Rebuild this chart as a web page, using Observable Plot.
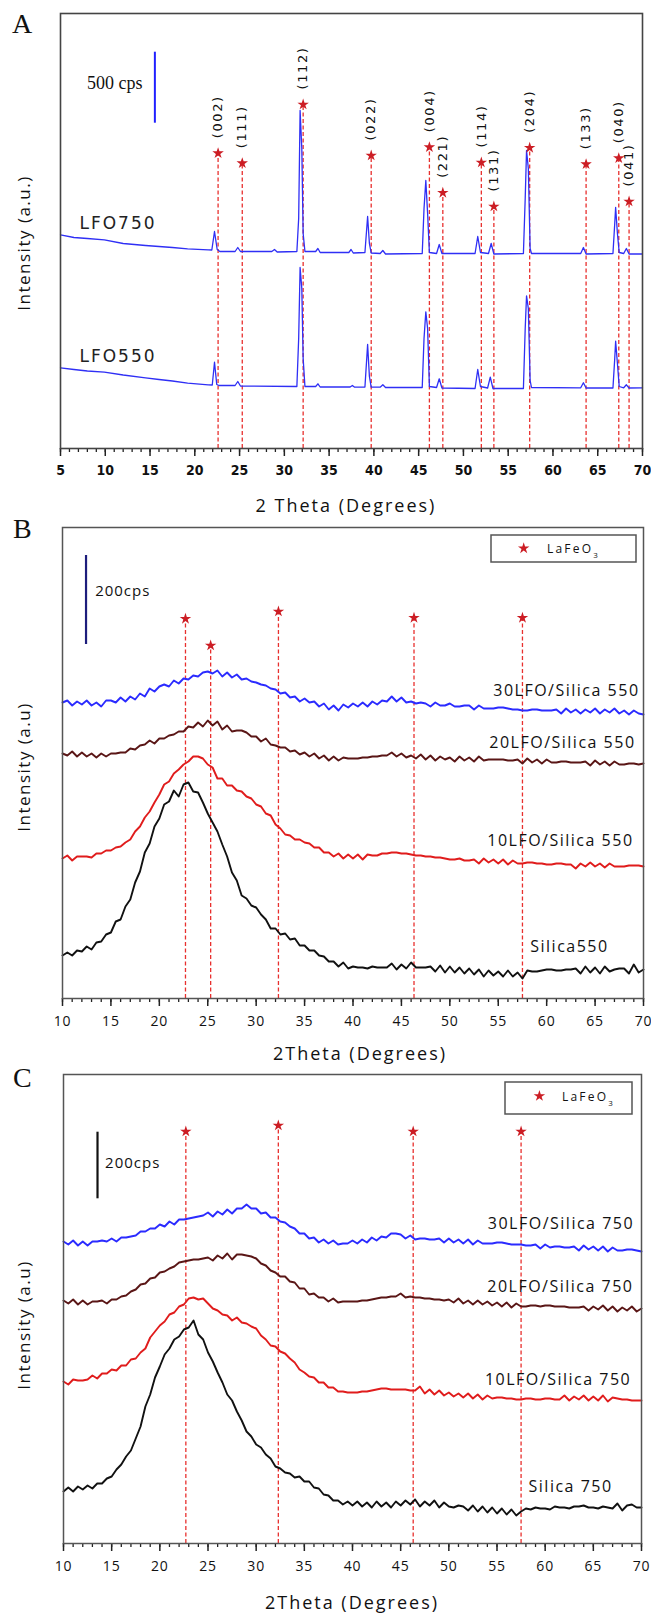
<!DOCTYPE html>
<html><head><meta charset="utf-8">
<script src="https://cdn.jsdelivr.net/npm/d3@7"></script>
<script src="https://cdn.jsdelivr.net/npm/@observablehq/plot@0.6"></script>
<style>
body{margin:0;background:#fff;}
#wrap{position:relative;width:651px;height:1613px;overflow:hidden;background:#fff;}
#wrap svg.plot{position:absolute;left:0;}
#overlay{position:absolute;left:0;top:0;pointer-events:none;}
</style></head>
<body><div id="wrap"></div>
<script>
// ---------- colours ----------
const BLUE_A = "#2f2ff5", BLUE = "#2b2bff", BROWN = "#5a1616", RED = "#e01c1c", BLACK = "#111111";
const DASH = "#e8302e", STAR = "#cc1d24", FRAME = "#444444";

// ---------- Panel A : LaFeO3 (LFO) calcined 550 / 750 ----------
const ticksA = [5,10,15,20,25,30,35,40,45,50,55,60,65,70];
const lfo750 = [[5,213.7],[6.5,211],[8,210],[9.9,208.7],[12,205],[14.5,203],[16,202],[17.5,201],[19.2,199.7],[21.5,198.7],[21.9,198.5],[22.2,217],[22.5,199],[22.8,197],[24.5,197],[24.8,201],[25.1,197],[28.6,197],[28.9,199],[29.2,196.5],[31.4,197],[31.6,230],[31.76,338],[31.95,300],[32.1,215],[32.3,197],[33.5,197],[33.75,200],[34,196],[37.2,196],[37.45,199],[37.7,195.5],[39.0,196],[39.3,232],[39.5,205],[39.7,195.5],[40.7,195],[41.0,198],[41.3,194.5],[45.4,195],[45.6,240],[45.8,268],[46.0,235],[46.2,196],[47.0,195],[47.3,204],[47.6,195],[51.3,195],[51.6,212],[51.9,196],[52.8,195],[53.1,205],[53.4,194.5],[56.7,195],[56.9,250],[57.05,298],[57.25,280],[57.45,200],[57.6,195],[63.1,195],[63.4,201],[63.7,194.5],[66.7,195],[66.9,225],[67.0,241],[67.2,215],[67.4,196],[67.9,195],[68.2,200],[68.5,194.5],[70,194.5]];
const lfo550 = [[5,80.7],[6.5,79],[8,77.5],[9.9,76.3],[12,73.5],[14.5,70.7],[16,69],[17.5,67.5],[19.2,65.3],[21.5,63.7],[21.95,63.5],[22.2,86.3],[22.45,64],[22.7,63],[24.5,63],[24.8,67],[25.1,62.5],[31.4,62],[31.6,110],[31.76,181],[31.95,160],[32.1,90],[32.3,62],[33.5,62],[33.75,64.7],[34,61.5],[37.35,61.5],[37.6,63],[37.85,61.3],[39.0,61.5],[39.3,104],[39.5,72],[39.7,61.3],[40.7,61.3],[41.0,63.7],[41.3,61],[45.4,61],[45.6,110],[45.8,136.7],[46.0,120],[46.2,62],[47.0,61],[47.3,69.7],[47.6,60.5],[51.3,60],[51.6,79],[51.9,62],[52.7,60.5],[53.0,71.3],[53.3,60],[56.7,60],[56.9,120],[57.05,152.7],[57.25,140],[57.45,68],[57.6,61],[63.1,60.7],[63.4,65.7],[63.7,60.5],[66.7,60.5],[66.9,90],[67.0,107.3],[67.2,85],[67.4,62],[67.9,60.7],[68.2,63.7],[68.5,60.5],[70,60.7]];
const hklA  = ["(002)","(111)","(112)","(022)","(004)","(221)","(114)","(131)","(204)","(133)","(040)","(041)"];
const hklPosA = [22.6, 25.3, 32.1, 39.7, 46.2, 47.7, 52.0, 53.4, 57.4, 63.7, 67.35, 68.5];
const hklStarA = [295.3, 285.3, 344, 293, 301.3, 255.7, 286, 242, 300.7, 284.3, 290.3, 247];
const seriesLabelsA = [{name:"LFO750", t:7.12, h:225}, {name:"LFO550", t:7.12, h:92}];
const scaleBarA = {t:15.54, lo:325.3, hi:396.3, text:"500 cps", tt:14.16, th:365.3};

// ---------- Panels B and C : xLFO/Silica, sampled every 0.5° from 10° to 70° ----------
const ticksBC = [10,15,20,25,30,35,40,45,50,55,60,65,70];
const ANGLE_START = 10, ANGLE_STEP = 0.5, N_ANGLES = 121;

const s30_550 = [
296,298,293,297,294,298,293,296,292,298,
298,296,301,297,302,299,305,302,310,307,
312,314,312,318,315,320,319,323,322,326,
327,325,328,322,326,321,324,319,320,317,
316,314,313,310,309,305,306,301,302,297,
300,296,297,292,295,289,293,288,294,291,
295,292,296,292,297,294,298,297,302,297,
301,296,297,295,296,295,292,296,293,293,
295,292,292,293,293,289,293,290,290,290,
291,291,290,289,289,288,288,289,289,288,
288,288,289,285,290,286,289,285,289,286,
290,285,289,286,290,285,288,284,288,285,
284];
const s20_550 = [
245,243,247,242,246,242,245,241,245,242,
245,245,246,246,250,249,253,254,258,255,
260,260,263,264,267,267,272,271,276,272,
278,273,277,269,273,267,268,268,266,262,
262,257,260,254,253,251,251,247,248,244,
246,242,245,240,243,238,242,238,241,240,
240,240,241,241,242,242,243,243,246,242,
245,241,243,240,244,239,243,238,242,239,
241,237,242,238,241,237,242,238,239,239,
239,239,238,238,239,235,240,236,239,235,
239,236,236,237,237,236,236,236,237,233,
238,234,237,233,237,234,234,235,235,234,
235];
const s10_550 = [
140,143,138,142,142,142,141,145,145,148,
148,151,152,156,159,167,172,181,187,196,
204,214,217,225,229,234,237,242,242,240,
234,231,220,220,213,213,208,207,202,200,
194,192,185,183,174,170,164,163,159,159,
156,155,151,151,146,146,142,145,140,144,
140,144,139,144,143,143,145,145,146,146,
145,145,144,143,143,142,142,141,141,140,
139,139,140,138,138,139,135,140,136,139,
135,139,134,138,135,135,136,136,135,135,
134,134,135,135,134,134,130,135,132,136,
132,135,131,135,132,132,132,133,133,133,
132];
const silica550 = [
43,46,43,48,47,52,49,56,57,64,
66,77,79,92,99,116,127,146,155,172,
180,194,197,208,202,214,216,207,206,196,
185,176,167,154,142,126,118,103,100,93,
91,84,79,70,70,64,65,59,60,53,
53,48,48,43,42,37,37,32,36,30,
32,31,31,30,32,31,31,31,35,29,
34,30,36,31,31,31,32,27,33,26,
32,26,31,25,30,24,29,22,28,23,
27,22,28,22,26,20,28,27,27,28,
29,29,28,28,29,29,30,25,32,26,
31,25,32,27,29,30,30,25,34,26,
29];
const s30_750 = [
302,299,303,298,302,298,302,302,303,302,
305,302,306,306,307,308,312,312,315,315,
319,317,322,319,324,324,325,326,327,328,
331,327,332,329,334,330,335,335,339,335,
335,330,331,326,326,322,321,317,315,310,
310,305,306,301,304,300,303,299,300,300,
303,300,304,301,306,303,307,306,310,310,
309,305,308,304,305,305,304,304,305,301,
305,301,304,300,304,299,303,300,300,300,
301,301,300,299,299,299,298,298,299,295,
299,296,297,297,296,296,297,293,298,294,
297,293,297,292,296,293,293,294,294,293,
292];
const s20_750 = [
243,240,244,239,243,239,242,242,243,240,
244,244,247,248,252,254,259,260,265,266,
271,272,275,277,281,282,283,284,284,285,
286,283,288,285,290,284,289,289,288,287,
285,280,278,273,271,267,267,262,261,255,
255,249,250,246,246,242,245,241,242,242,
242,242,243,243,244,245,246,246,247,247,
250,246,247,246,246,245,245,244,244,243,
244,241,245,240,243,239,243,239,242,238,
241,237,241,236,240,237,237,238,238,237,
238,238,237,237,237,236,236,236,237,233,
237,234,238,233,237,232,236,233,237,232,
235];
const s10_750 = [
162,159,164,163,163,164,168,165,170,170,
174,173,178,178,184,185,191,195,206,212,
218,222,229,231,237,239,245,246,244,245,
240,235,233,229,228,223,226,221,220,217,
215,208,204,198,197,192,190,185,181,174,
171,167,166,161,161,156,156,152,152,151,
151,151,152,152,153,154,155,155,154,154,
154,154,153,153,157,150,154,149,153,148,
151,147,150,146,150,145,149,144,148,145,
146,146,145,145,144,144,145,145,144,144,
145,145,144,144,148,143,147,144,148,143,
147,143,148,142,146,145,144,144,143,143,
143];
const silica750 = [
52,56,52,57,54,58,55,60,60,65,
67,74,79,87,93,105,117,137,149,166,
177,189,195,204,207,214,216,223,209,204,
191,182,171,161,149,143,132,123,112,107,
99,96,89,85,77,75,71,70,66,67,
62,62,56,55,49,48,43,43,39,42,
38,42,37,41,36,42,37,41,36,42,
38,43,39,44,37,42,38,43,36,41,
37,36,38,37,33,38,32,37,31,36,
30,35,29,34,28,32,35,34,36,35,
35,34,37,36,36,35,37,37,38,36,
36,35,37,36,35,40,33,38,39,36,
36];

const namesB = ["30LFO/Silica 550","20LFO/Silica 550","10LFO/Silica 550","Silica550"];
const labelPosB = [[69.59,308],[69.18,255.3],[68.97,158],[66.4,51.3]];
const starPosB = [22.7, 25.3, 32.3, 46.3, 57.5];
const starHB   = [379.7, 353, 387, 380.7, 380.7];
const scaleBarB = {t:12.43, lo:354, hi:443, text:"200cps", tt:13.37, th:407.3};

const namesC = ["30LFO/Silica 750","20LFO/Silica 750","10LFO/Silica 750","Silica 750"];
const labelPosC = [[69.23,319.7],[69.17,256.3],[68.93,164],[67.0,56.3]];
const starPosC = [22.7, 32.3, 46.3, 57.5];
const starHC   = [412, 418, 412, 412];
const scaleBarC = {t:13.53, lo:344.7, hi:411.3, text:"200cps", tt:14.32, th:380.3};

// ---------- helpers ----------
const angles = d3.range(N_ANGLES).map(i => ANGLE_START + i * ANGLE_STEP);
const toRows = arr => arr.map((h, i) => ({t: angles[i], h}));
const pairRows = arr => arr.map(([t, h]) => ({t, h}));
const wrap = document.getElementById("wrap");

function xAxes(ticks, lo, hi, fontOpts, pad) {
  return [
    Plot.axisX({ticks: d3.range(lo, hi + 1), tickSize: 4, tickFormat: () => "", label: null, stroke: "#222", strokeWidth: 1.3}),
    Plot.axisX({ticks, tickSize: 8, tickPadding: pad, label: null, stroke: "#222", strokeWidth: 1.5, ...fontOpts})
  ];
}
function spaceTexts(svg, strings, ls) {
  const set = new Set(strings.map(String));
  d3.select(svg).selectAll("text").filter(function () { return set.has(this.textContent.trim()); })
    .attr("letter-spacing", ls).style("letter-spacing", ls);
}
function place(svg, top) {
  svg.classList.add("plot");
  svg.style.top = top + "px";
  wrap.appendChild(svg);
}

// ---------- Panel A ----------
const starsA = hklA.map((k, i) => ({k, t: hklPosA[i], h: hklStarA[i]}));
const plotA = Plot.plot({
  width: 651, height: 520, marginLeft: 60, marginRight: 9, marginTop: 13, marginBottom: 72,
  x: {domain: [5, 70]}, y: {domain: [0, 435], axis: null},
  style: {fontFamily: "'DejaVu Sans', sans-serif", fontSize: "13px", color: "#111", background: "transparent", overflow: "visible"},
  marks: [
    Plot.ruleX(starsA, {x: "t", y1: 0, y2: "h", stroke: DASH, strokeWidth: 1.3, strokeDasharray: "4,2.5"}),
    Plot.line(pairRows(lfo750), {x: "t", y: "h", stroke: BLUE_A, strokeWidth: 1.3}),
    Plot.line(pairRows(lfo550), {x: "t", y: "h", stroke: BLUE_A, strokeWidth: 1.3}),
    Plot.dot(starsA, {x: "t", y: "h", symbol: "star", r: 3.6, fill: STAR, stroke: "none"}),
    Plot.text(starsA, {x: "t", y: "h", text: "k", rotate: -90, textAnchor: "start", dy: -15, fontSize: 13, fontFamily: "'DejaVu Sans', sans-serif", fill: "#111"}),
    Plot.text(seriesLabelsA, {x: "t", y: "h", text: "name", textAnchor: "start", fontSize: 17, fontFamily: "'DejaVu Sans', sans-serif", fill: "#222"}),
    Plot.ruleX([scaleBarA], {x: "t", y1: "lo", y2: "hi", stroke: "#2020ff", strokeWidth: 2}),
    Plot.text([scaleBarA], {x: "tt", y: "th", text: "text", textAnchor: "end", fontSize: 18, fontFamily: "'Liberation Serif', serif", fill: "#111"}),
    ...xAxes(ticksA, 5, 70, {fontSize: 14, fontWeight: "bold", fontFamily: "'Liberation Sans Narrow','DejaVu Sans Condensed','Liberation Sans',sans-serif"}, 9),
    Plot.frame({stroke: FRAME, strokeWidth: 1.6})
  ]
});
spaceTexts(plotA, hklA, "1.6px");
spaceTexts(plotA, seriesLabelsA.map(d => d.name), "2px");
place(plotA, 0);

// ---------- Panels B & C ----------
function panelBC(cfg) {
  const colors = [BLUE, BROWN, RED, BLACK];
  const stars = cfg.starPos.map((t, i) => ({t, h: cfg.starH[i]}));
  const labels = cfg.names.map((name, i) => ({name, t: cfg.labelPos[i][0], h: cfg.labelPos[i][1]}));
  const svg = Plot.plot({
    width: 651, height: cfg.height, marginLeft: cfg.ml, marginRight: cfg.mr, marginTop: cfg.mt, marginBottom: cfg.mb,
    x: {domain: [10, 70]}, y: {domain: [0, cfg.ymax], axis: null},
    style: {fontFamily: "'Open Sans', sans-serif", fontSize: "14px", color: "#111", background: "transparent", overflow: "visible"},
    marks: [
      Plot.ruleX(stars, {x: "t", y1: 0, y2: "h", stroke: DASH, strokeWidth: 1.3, strokeDasharray: "4,2.5"}),
      ...cfg.series.map((s, i) => Plot.line(toRows(s), {x: "t", y: "h", stroke: colors[i], strokeWidth: 1.9, strokeLinejoin: "round"})),
      Plot.dot(stars, {x: "t", y: "h", symbol: "star", r: 3.6, fill: STAR, stroke: "none"}),
      Plot.text(labels, {x: "t", y: "h", text: "name", textAnchor: "end", fontSize: 16, fontFamily: "'Open Sans', sans-serif", fill: "#111"}),
      Plot.ruleX([cfg.bar], {x: "t", y1: "lo", y2: "hi", stroke: cfg.barColor, strokeWidth: 2.2}),
      Plot.text([cfg.bar], {x: "tt", y: "th", text: "text", textAnchor: "start", fontSize: 15, fontFamily: "'Open Sans', sans-serif", fill: "#111"}),
      ...xAxes(ticksBC, 10, 70, {fontSize: 14, fontFamily: "'Open Sans', sans-serif"}, 10),
      Plot.frame({stroke: "#555", strokeWidth: 1.5})
    ]
  });
  spaceTexts(svg, cfg.names, "1.5px");
  spaceTexts(svg, ticksBC, "0.8px");
  spaceTexts(svg, [cfg.bar.text], "1px");
  return svg;
}

const plotB = panelBC({height: 550, ml: 62, mr: 8, mt: 12, mb: 67, ymax: 471,
  series: [s30_550, s20_550, s10_550, silica550], names: namesB, labelPos: labelPosB,
  starPos: starPosB, starH: starHB, bar: scaleBarB, barColor: "#1d1d7c"});
place(plotB, 515);

const plotC = panelBC({height: 548, ml: 63, mr: 10, mt: 9, mb: 70, ymax: 469,
  series: [s30_750, s20_750, s10_750, silica750], names: namesC, labelPos: labelPosC,
  starPos: starPosC, starH: starHC, bar: scaleBarC, barColor: "#111"});
place(plotC, 1065);

// ---------- overlay: panel letters, axis titles, legends ----------
const ov = d3.select(wrap).append("svg").attr("id", "overlay").attr("width", 651).attr("height", 1613);
[["A", 12, 33], ["B", 13, 538], ["C", 13, 1087]].forEach(([s, x, y]) =>
  ov.append("text").attr("x", x).attr("y", y).attr("font-family", "'Liberation Serif', serif").attr("font-size", 28).attr("fill", "#111").text(s));

[["2 Theta (Degrees)", 346, 512], ["2Theta (Degrees)", 360, 1060], ["2Theta (Degrees)", 352, 1609]].forEach(([s, x, y]) =>
  ov.append("text").attr("x", x).attr("y", y).attr("text-anchor", "middle").attr("font-family", "'Open Sans', sans-serif")
    .attr("font-size", 18).attr("letter-spacing", "2px").attr("fill", "#111").text(s));

[["Intensity (a.u.)", 23, 243], ["Intensity (a.u)", 23, 767], ["Intensity (a.u)", 23, 1325]].forEach(([s, x, y]) =>
  ov.append("text").attr("transform", `translate(${x},${y}) rotate(-90)`).attr("text-anchor", "middle").attr("dominant-baseline", "central")
    .attr("font-family", "'Open Sans', sans-serif").attr("font-size", 17).attr("letter-spacing", "1.5px").attr("fill", "#111").text(s));

const starPath = d3.symbol(d3.symbolStar, 3.6 * 3.6 * Math.PI)();
[{x: 491, y: 535, w: 145, h: 27, sx: 523.7, sy: 548.3, tx: 547, ty: 553},
 {x: 505, y: 1082, w: 127, h: 32, sx: 539.4, sy: 1096, tx: 562, ty: 1101}].forEach(L => {
  ov.append("rect").attr("x", L.x).attr("y", L.y).attr("width", L.w).attr("height", L.h).attr("fill", "none").attr("stroke", "#555").attr("stroke-width", 1.5);
  ov.append("path").attr("d", starPath).attr("transform", `translate(${L.sx},${L.sy})`).attr("fill", STAR);
  const t = ov.append("text").attr("x", L.tx).attr("y", L.ty).attr("font-family", "'Open Sans', sans-serif").attr("font-size", 12).attr("letter-spacing", "2.2px").attr("fill", "#111");
  t.append("tspan").text("LaFeO");
  t.append("tspan").attr("font-size", 8).attr("dy", 5).text("3");
});
</script>
</body></html>
